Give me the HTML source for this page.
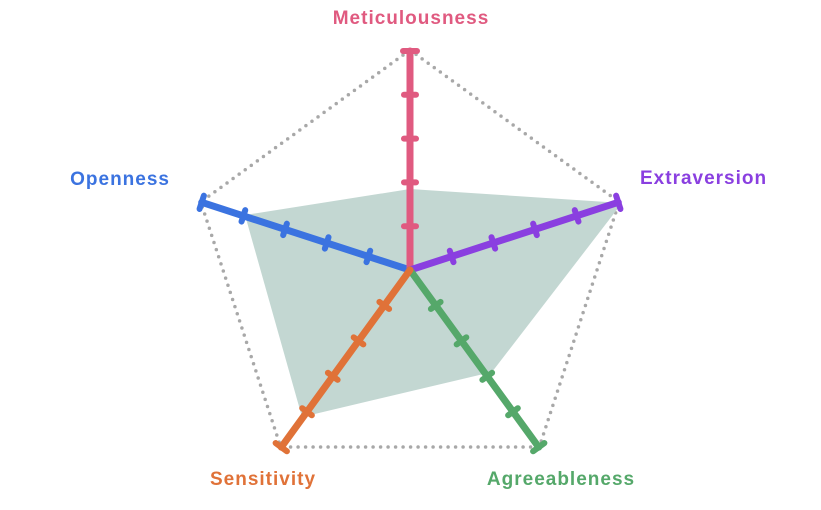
<!DOCTYPE html>
<html><head><meta charset="utf-8"><style>
html,body{margin:0;padding:0;background:#fff;width:821px;height:510px;overflow:hidden}
text{font-family:"Liberation Sans",sans-serif;font-weight:bold;font-size:19px;letter-spacing:1px}
</style></head><body>
<svg width="821" height="510" viewBox="0 0 821 510" xmlns="http://www.w3.org/2000/svg">
<polygon points="410,50 619.2,202 539.3,447 280.7,447 200.8,202" fill="none" stroke="#a8a8a8" stroke-width="3.5" stroke-dasharray="0 7.5" stroke-linecap="round"/>
<polygon points="410,189 622,203 492,372 302,417 245,215" fill="#c3d7d2"/>
<g stroke-linecap="round" fill="none">
<g transform="rotate(288 410 270)" stroke="#3b73e0">
<line x1="410" y1="270" x2="410" y2="51" stroke-width="7"/>
<g stroke-width="6"><line x1="404" y1="226.2" x2="416" y2="226.2"/><line x1="404" y1="182.4" x2="416" y2="182.4"/><line x1="404" y1="138.6" x2="416" y2="138.6"/><line x1="404" y1="94.8" x2="416" y2="94.8"/><line x1="403" y1="51" x2="417" y2="51"/></g></g>
<g transform="rotate(0 410 270)" stroke="#e05a80">
<line x1="410" y1="270" x2="410" y2="51" stroke-width="7"/>
<g stroke-width="6"><line x1="404" y1="226.2" x2="416" y2="226.2"/><line x1="404" y1="182.4" x2="416" y2="182.4"/><line x1="404" y1="138.6" x2="416" y2="138.6"/><line x1="404" y1="94.8" x2="416" y2="94.8"/><line x1="403" y1="51" x2="417" y2="51"/></g></g>
<g transform="rotate(72 410 270)" stroke="#8a3fe0">
<line x1="410" y1="270" x2="410" y2="51" stroke-width="7"/>
<g stroke-width="6"><line x1="404" y1="226.2" x2="416" y2="226.2"/><line x1="404" y1="182.4" x2="416" y2="182.4"/><line x1="404" y1="138.6" x2="416" y2="138.6"/><line x1="404" y1="94.8" x2="416" y2="94.8"/><line x1="403" y1="51" x2="417" y2="51"/></g></g>
<g transform="rotate(144 410 270)" stroke="#55a86a">
<line x1="410" y1="270" x2="410" y2="51" stroke-width="7"/>
<g stroke-width="6"><line x1="404" y1="226.2" x2="416" y2="226.2"/><line x1="404" y1="182.4" x2="416" y2="182.4"/><line x1="404" y1="138.6" x2="416" y2="138.6"/><line x1="404" y1="94.8" x2="416" y2="94.8"/><line x1="403" y1="51" x2="417" y2="51"/></g></g>
<g transform="rotate(216 410 270)" stroke="#e07238">
<line x1="410" y1="270" x2="410" y2="51" stroke-width="7"/>
<g stroke-width="6"><line x1="404" y1="226.2" x2="416" y2="226.2"/><line x1="404" y1="182.4" x2="416" y2="182.4"/><line x1="404" y1="138.6" x2="416" y2="138.6"/><line x1="404" y1="94.8" x2="416" y2="94.8"/><line x1="403" y1="51" x2="417" y2="51"/></g></g>
</g>
<text x="411" y="24" fill="#e05a80" text-anchor="middle">Meticulousness</text>
<text x="170" y="185" fill="#3b73e0" text-anchor="end">Openness</text>
<text x="640" y="184" fill="#8a3fe0">Extraversion</text>
<text x="263" y="485" fill="#e07238" text-anchor="middle">Sensitivity</text>
<text x="561" y="485" fill="#55a86a" text-anchor="middle">Agreeableness</text>
</svg>
</body></html>
